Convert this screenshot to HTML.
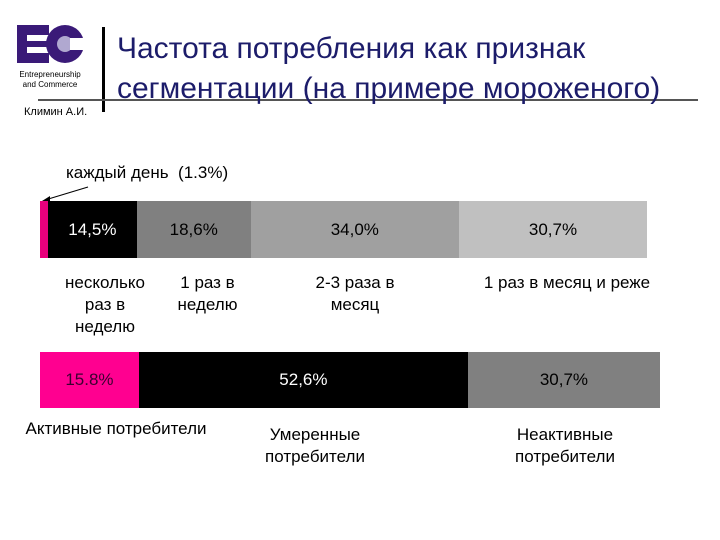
<!DOCTYPE html>
<html><head><meta charset="utf-8"><style>
body{margin:0;width:720px;height:540px;background:#fff;overflow:hidden;font-family:"Liberation Sans","DejaVu Sans",sans-serif;position:relative}
.a{position:absolute}
.t{position:absolute;text-align:center;font-size:17px;color:#000;line-height:22px}
</style></head><body>
<div class="a" style="left:15px;top:23px;width:70px;height:42px">
<svg width="70" height="42"><rect x="2" y="2" width="32" height="38" fill="#3a1a78"/><rect x="12" y="12" width="22" height="6" fill="#fff"/><rect x="12" y="24" width="22" height="6" fill="#fff"/><circle cx="50" cy="21" r="19" fill="#3a1a78"/><circle cx="50" cy="21" r="8" fill="#b0a8d0"/><rect x="55" y="15" width="15" height="12" fill="#fff"/></svg></div>
<div class="a" style="left:5px;top:70px;width:90px;font-size:8px;text-align:center;line-height:10px">Entrepreneurship<br>and Commerce</div>
<div class="a" style="left:24px;top:106px;font-size:11px">Климин А.И.</div>
<div class="a" style="left:102px;top:27px;width:3px;height:85px;background:#000"></div>
<div class="a" style="left:38px;top:99px;width:660px;height:2px;background:#555"></div>
<div class="a" style="left:117px;top:29px;font-size:30px;color:#1c1c6a;line-height:40px;white-space:nowrap">Частота потребления как признак<br>сегментации (на примере мороженого)</div>
<div class="t" style="left:66px;top:162px;text-align:left">каждый день&nbsp; (1.3%)</div>
<svg class="a" style="left:0;top:0" width="720" height="540"><line x1="88" y1="187" x2="45" y2="200" stroke="#000" stroke-width="1"/><polygon points="42,201 50,196 50,202" fill="#000"/></svg>
<div id="bars"></div>
<div class="t" style="left:50px;top:272px;width:110px">несколько<br>раз в<br>неделю</div>
<div class="t" style="left:155px;top:272px;width:105px">1 раз в<br>неделю</div>
<div class="t" style="left:285px;top:272px;width:140px">2-3 раза в<br>месяц</div>
<div class="t" style="left:462px;top:272px;width:210px">1 раз в месяц и реже</div>
<div class="t" style="left:0;top:418px;width:232px">Активные потребители</div>
<div class="t" style="left:240px;top:424px;width:150px">Умеренные<br>потребители</div>
<div class="t" style="left:490px;top:424px;width:150px">Неактивные<br>потребители</div>
<script>
const topValues=[1.3,14.5,18.6,34.0,30.7];
const topLabels=["","14,5%","18,6%","34,0%","30,7%"];
const bottomValues=[15.8,52.6,30.7];
const bottomLabels=["15.8%","52,6%","30,7%"];
function draw(vals,labs,cols,tcols,y,h,x0,w,name){
 const tot=vals.reduce((a,b)=>a+b,0);let x=x0;
 vals.forEach((v,i)=>{const bw=v/tot*w;
  const d=document.createElement('div');d.className='a';
  
  
  d.style.cssText=`left:${x}px;top:${y}px;width:${bw}px;height:${h}px;background:${cols[i]};color:${tcols[i]};font-size:17px;display:flex;align-items:center;justify-content:center`;
  d.textContent=labs[i];document.getElementById('bars').appendChild(d);x+=bw;});
}
draw(topValues,topLabels,["#e8007c","#000","#808080","#a0a0a0","#c0c0c0"],["#fff","#fff","#000","#000","#000"],201,57,40,607,'top-bar');
draw(bottomValues,bottomLabels,["#ff0090","#000","#808080"],["#3a0030","#fff","#000"],352,56,40,620,'bottom-bar');
</script>
</body></html>
